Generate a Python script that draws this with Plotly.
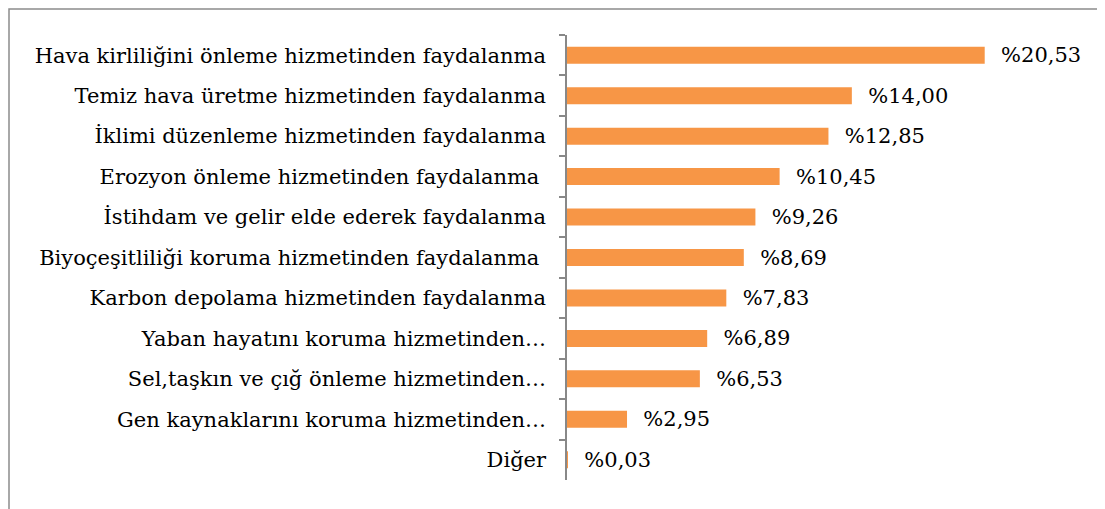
import plotly.graph_objects as go

categories = [
    "Hava kirliliğini önleme hizmetinden faydalanma",
    "Temiz hava üretme hizmetinden faydalanma",
    "İklimi düzenleme hizmetinden faydalanma",
    "Erozyon önleme hizmetinden faydalanma\u00a0",
    "İstihdam ve gelir elde ederek faydalanma",
    "Biyoçeşitliliği koruma hizmetinden faydalanma\u00a0",
    "Karbon depolama hizmetinden faydalanma",
    "Yaban hayatını koruma hizmetinden…",
    "Sel,taşkın ve çığ önleme hizmetinden…",
    "Gen kaynaklarını koruma hizmetinden…",
    "Diğer",
]
values = [20.53, 14.00, 12.85, 10.45, 9.26, 8.69, 7.83, 6.89, 6.53, 2.95, 0.03]
value_labels = ["%20,53", "%14,00", "%12,85", "%10,45", "%9,26", "%8,69",
                "%7,83", "%6,89", "%6,53", "%2,95", "%0,03"]

FONT = "DejaVu Serif"
FS = 21

fig = go.Figure(go.Bar(
    x=values,
    y=categories,
    orientation="h",
    marker=dict(color="#F79646", line=dict(width=0)),
    text=["\u00a0\u00a0" + t for t in value_labels],
    textposition="outside",
    constraintext="none",
    textfont=dict(family=FONT, size=FS, color="#000000"),
    cliponaxis=False,
))

W, H = 1097, 501
L, R, T, B = 559, 9, 27, 29
PW, PH = W - L - R, H - T - B

fig.update_layout(
    width=W, height=H,
    margin=dict(l=L, r=R, t=T, b=B, autoexpand=False),
    paper_bgcolor="white", plot_bgcolor="white",
    bargap=0.58,
    showlegend=False,
    font=dict(family=FONT, size=FS, color="#000000"),
    xaxis=dict(range=[0, 26], visible=False, showgrid=False, zeroline=False,
               automargin=False),
    yaxis=dict(
        range=[10.5, -0.5], automargin=False,
        showline=True, linecolor="#888888", linewidth=1.5,
        ticks="outside", ticklen=6, tickcolor="#888888", tickwidth=1.5,
        tickson="boundaries",
        ticklabelstandoff=15,
        showgrid=False,
        tickfont=dict(family=FONT, size=FS, color="#000000"),
    ),
    shapes=[dict(
        type="rect", xref="paper", yref="paper",
        x0=(1 - L) / PW, x1=(W - 1 - L) / PW,
        y0=-0.2, y1=(H - B - 1) / PH,
        line=dict(color="#8c8c8c", width=1.5), fillcolor="rgba(0,0,0,0)",
        layer="below",
    )],
)

fig.write_html("out.html")
